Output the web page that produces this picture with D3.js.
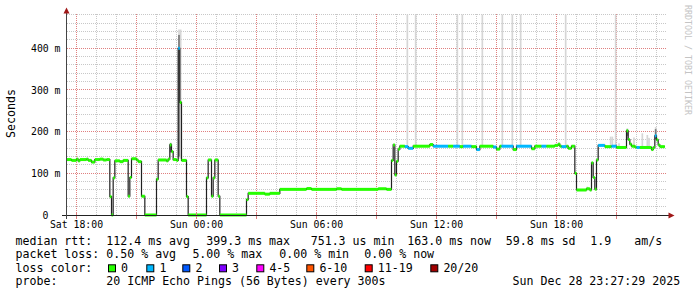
<!DOCTYPE html>
<html><head><meta charset="utf-8">
<script src="https://cdn.jsdelivr.net/npm/d3@7/dist/d3.min.js"></script>
<style>
body{margin:0;background:#fff}
svg{display:block}
text{font-family:"DejaVu Sans Mono",monospace;fill:#000}
</style>
</head><body>
<svg id="chart" width="697" height="297"></svg>
<script>
// ---------- data ----------
const stepTimes = [
 "Sat 17:30","Sat 17:45","Sat 18:00","Sat 18:05","Sat 18:10","Sat 18:30","Sat 18:35","Sat 18:45","Sat 18:55","Sat 19:10",
 "Sat 19:20","Sat 19:30","Sat 19:40","Sat 19:45","Sat 19:50","Sat 19:55","Sat 20:10","Sat 20:20","Sat 20:35","Sat 20:40",
 "Sat 20:45","Sat 21:00","Sat 21:05","Sat 21:15","Sat 21:25","Sat 22:00","Sat 22:05","Sat 22:30","Sat 22:35","Sat 22:40",
 "Sat 22:45","Sat 22:50","Sat 23:00","Sat 23:05","Sat 23:10","Sat 23:15","Sat 23:30","Sat 23:35",
 "Sun 00:30","Sun 00:35","Sun 00:45","Sun 00:50","Sun 00:55","Sun 01:05","Sun 01:10","Sun 02:30","Sun 02:35","Sun 03:25",
 "Sun 03:40","Sun 04:10","Sun 05:30","Sun 05:45","Sun 07:00","Sun 07:15","Sun 09:05","Sun 09:30","Sun 09:45","Sun 09:50",
 "Sun 09:55","Sun 10:00","Sun 10:05","Sun 10:10","Sun 10:25","Sun 10:35","Sun 10:50","Sun 11:40","Sun 11:50","Sun 12:35",
 "Sun 12:50","Sun 13:10","Sun 13:20","Sun 13:45","Sun 14:00","Sun 14:10","Sun 14:50","Sun 15:00","Sun 15:10","Sun 15:15",
 "Sun 15:50","Sun 16:00","Sun 16:45","Sun 16:55","Sun 17:15","Sun 17:30","Sun 17:55","Sun 18:05","Sun 18:10","Sun 18:15",
 "Sun 18:30","Sun 18:35","Sun 18:45","Sun 18:55","Sun 19:00","Sun 19:30","Sun 19:40","Sun 19:45","Sun 19:50","Sun 19:55",
 "Sun 20:00","Sun 20:05","Sun 20:25","Sun 20:45","Sun 21:00","Sun 21:30","Sun 21:35","Sun 21:40","Sun 21:45","Sun 21:55",
 "Sun 22:00","Sun 22:10","Sun 22:45","Sun 22:50","Sun 22:55","Sun 23:00","Sun 23:05","Sun 23:10"
];
const medianMs = [
 133,131,134,130,133,134,131,127,133,134,
 132,133,44,0,89,130,128,131,45,90,
 135,132,128,45,0,86,132,130,134,168,
 152,133,131,400,270,131,44,0,
 89,132,45,89,132,45,0,37,52,50,
 52,61.5,63.5,61.5,63,61.5,63,61.5,131,168,
 96,129,158,165,164,160,165,169,165,165,
 165,164,165,164,157,165,163,158,165,165,
 157,165,159,165,165,165,167,170,165,164,
 165,160,165,100,60,63,60,125,90,62,
 132,167,164,165,162,202,181,170,165,163,
 162,162,157,162,190,180,168,164
];
const lossCount = [
 0,0,0,0,0,0,0,0,0,0,
 0,0,0,0,0,0,0,0,0,0,
 0,0,0,0,0,0,0,0,0,0,
 0,0,0,1,0,0,0,0,
 0,0,0,0,0,0,0,0,0,0,
 0,0,0,0,0,0,0,0,0,0,
 0,0,0,0,1,1,0,0,1,0,
 1,0,1,0,1,0,1,0,0,1,
 0,1,0,0,1,0,0,0,0,1,
 0,0,0,0,0,0,0,0,0,0,
 0,1,0,1,0,0,0,0,0,0,
 1,0,0,0,1,0,0,0
];
const lastStepEnd = "Sun 23:25";

// smoke (spread of the 20 pings), light outer band
const smokeTimes = ["Sat 23:05","Sat 23:10","Sun 10:30","Sun 10:55","Sun 13:00","Sun 13:15","Sun 14:15","Sun 15:15","Sun 15:45",
  "Sun 16:10","Sun 18:25","Sun 19:30","Sun 20:40","Sun 20:45","Sun 20:55","Sun 21:05","Sun 21:30","Sun 21:50","Sun 22:15",
  "Sun 22:30","Sun 22:35","Sun 22:55"];
const smokeLow  = [135,135,165,165,165,165,165,165,165,165,165,60,165,165,165,162,181,163,162,162,162,180];
const smokeHigh = [445,445,481,481,481,481,481,481,481,481,481,68,188,188,481,172,208,186,196,192,185,211];
// dense core of the smoke
const coreTimes = ["Sat 22:40","Sat 23:05","Sun 21:30","Sun 22:55"];
const coreLow   = [150,140,190,182];
const coreHigh  = [173,432,205,206];

const yTicks = [0,100,200,300,400];
const lossLabels = ["0","1","2","3","4-5","6-10","11-19","20/20"];
const lossColors = ["#26ff00","#00b8ff","#0059ff","#7e00ff","#ff00ff","#ff5500","#ff0000","#a10000"];

const rttLegend  = ["median rtt:","112.4 ms avg","399.3 ms max","751.3 us min","163.0 ms now","59.8 ms sd","1.9","am/s"];
const lossLegend = ["packet loss:","0.50 % avg","5.00 % max","0.00 % min","0.00 % now"];
const probeLegend = ["probe:","20 ICMP Echo Pings (56 Bytes) every 300s","Sun Dec 28 23:27:29 2025"];

// ---------- layout ----------
const rttX  = [15.5,106.3,206.3,310.7,407.3,505.8,590.3,634.3];
const lossX = [15.5,106.3,192.4,279.3,364.3];
const probeX = [15.5,106.3,512.6];
const boxX = [108.5,146.8,182.8,219.5,256.8,306.8,365.2,430.8];
const rowY = [245,258.3,271.7,285];

const parseT = s => { const [d, hm] = s.split(" "); const [h, m] = hm.split(":").map(Number);
  return new Date(2025, 11, d === "Sat" ? 27 : 28, h, m); };

const svg = d3.select("#chart");
const x = d3.scaleTime().domain([parseT("Sat 17:30"), parseT("Sun 23:30")]).range([66.5, 666.5]);
const y = d3.scaleLinear().domain([0, 481]).range([215, 14.5]);
const px = v => Math.floor(v) + 0.5;

// ---------- grid ----------
const g = svg.append("g").attr("shape-rendering","crispEdges");
const hours = x.ticks(d3.timeHour.every(1));
hours.forEach(t => {
  const major = t.getHours() % 3 === 0;
  g.append("line").attr("x1", px(x(t))).attr("x2", px(x(t))).attr("y1", 14).attr("y2", 215)
    .attr("stroke", major ? "#e08080" : "#c8c8c8").attr("stroke-dasharray","1,1");
});
d3.range(20, 481, 20).forEach(v => {
  const major = v % 100 === 0;
  g.append("line").attr("x1", 67).attr("x2", 667).attr("y1", px(y(v))).attr("y2", px(y(v)))
    .attr("stroke", major ? "#e08080" : "#c8c8c8").attr("stroke-dasharray","1,1");
});

// ---------- smoke ----------
const stepW = x(parseT("Sat 17:35")) - x(parseT("Sat 17:30"));
svg.append("g").selectAll("rect").data(smokeTimes).join("rect")
  .attr("x", d => x(parseT(d))).attr("width", stepW)
  .attr("y", (d,i) => y(smokeHigh[i])).attr("height", (d,i) => y(smokeLow[i]) - y(smokeHigh[i]))
  .attr("fill", "#d6d6d6");
svg.append("g").selectAll("rect").data(coreTimes).join("rect")
  .attr("x", d => x(parseT(d))).attr("width", stepW)
  .attr("y", (d,i) => y(coreHigh[i])).attr("height", (d,i) => y(coreLow[i]) - y(coreHigh[i]))
  .attr("fill", "#777");

// ---------- median ----------
const pts = stepTimes.map((t,i) => [x(parseT(t)), y(medianMs[i])]);
pts.push([x(parseT(lastStepEnd)), y(medianMs[medianMs.length-1])]);
svg.append("path").attr("d", d3.line().curve(d3.curveStepAfter)(pts))
  .attr("fill","none").attr("stroke","#202020").attr("stroke-width",1.2);

const binOf = l => l <= 3 ? l : l <= 5 ? 4 : l <= 10 ? 5 : l <= 19 ? 6 : 7;
svg.append("g").selectAll("rect").data(stepTimes).join("rect")
  .attr("x", (d,i) => x(parseT(d)))
  .attr("width", (d,i) => x(parseT(i+1 < stepTimes.length ? stepTimes[i+1] : lastStepEnd)) - x(parseT(d)))
  .attr("y", (d,i) => y(medianMs[i]) - 1.5).attr("height", 3)
  .attr("fill", (d,i) => lossColors[binOf(lossCount[i])]);

// ---------- axes ----------
const ax = svg.append("g").attr("shape-rendering","crispEdges");
hours.filter(t => t.getHours() % 3 === 0).forEach(t => {
  ax.append("line").attr("x1", px(x(t))).attr("x2", px(x(t))).attr("y1", 213).attr("y2", 219).attr("stroke","#e08080");
});
ax.append("line").attr("x1",62).attr("x2",669).attr("y1",215.5).attr("y2",215.5).attr("stroke","#222");
ax.append("line").attr("x1",66.5).attr("x2",66.5).attr("y1",219).attr("y2",12).attr("stroke","#444");
svg.append("path").attr("d","M63.5,13.5L69.5,13.5L66.5,7.5Z").attr("fill","#a01818");
svg.append("path").attr("d","M668.5,212.5L668.5,218.5L674.5,215.5Z").attr("fill","#a01818");

const fmtX = d3.timeFormat("%a %H:%M");
hours.filter(t => t.getHours() % 6 === 0).forEach(t => {
  svg.append("text").attr("x", x(t)).attr("y", 228).attr("text-anchor","middle")
    .attr("font-size", "9.8px").text(fmtX(t));
});
yTicks.forEach(v => {
  svg.append("text").attr("x", v === 0 ? 48.3 : 60.5).attr("y", y(v) + 3.6).attr("text-anchor","end")
    .attr("font-size","9.8px").text(v === 0 ? "0" : v + " m");
});
svg.append("text").attr("transform","translate(15,113.5) rotate(-90)").attr("text-anchor","middle")
  .attr("font-size","11.6px").text("Seconds");
svg.append("text").attr("transform","translate(684.5,5) rotate(90)")
  .attr("font-size","8.3px").style("fill","#c4c4c4").text("RRDTOOL / TOBI OETIKER");

// ---------- legend ----------
const leg = svg.append("g").attr("font-size","11.6px");
rttLegend.forEach((s,i) => leg.append("text").attr("x", rttX[i]).attr("y", rowY[0]).text(s));
lossLegend.forEach((s,i) => leg.append("text").attr("x", lossX[i]).attr("y", rowY[1]).text(s));
leg.append("text").attr("x", 15.5).attr("y", rowY[2]).text("loss color:");
lossLabels.forEach((s,i) => {
  leg.append("rect").attr("x", boxX[i]).attr("y", 264.8).attr("width", 7).attr("height", 7)
    .attr("fill", lossColors[i]).attr("stroke","#000").attr("stroke-width",1);
  leg.append("text").attr("x", boxX[i] + 12.6).attr("y", rowY[2]).text(s);
});
probeLegend.forEach((s,i) => leg.append("text").attr("x", probeX[i]).attr("y", rowY[3]).text(s));
</script>
</body></html>
